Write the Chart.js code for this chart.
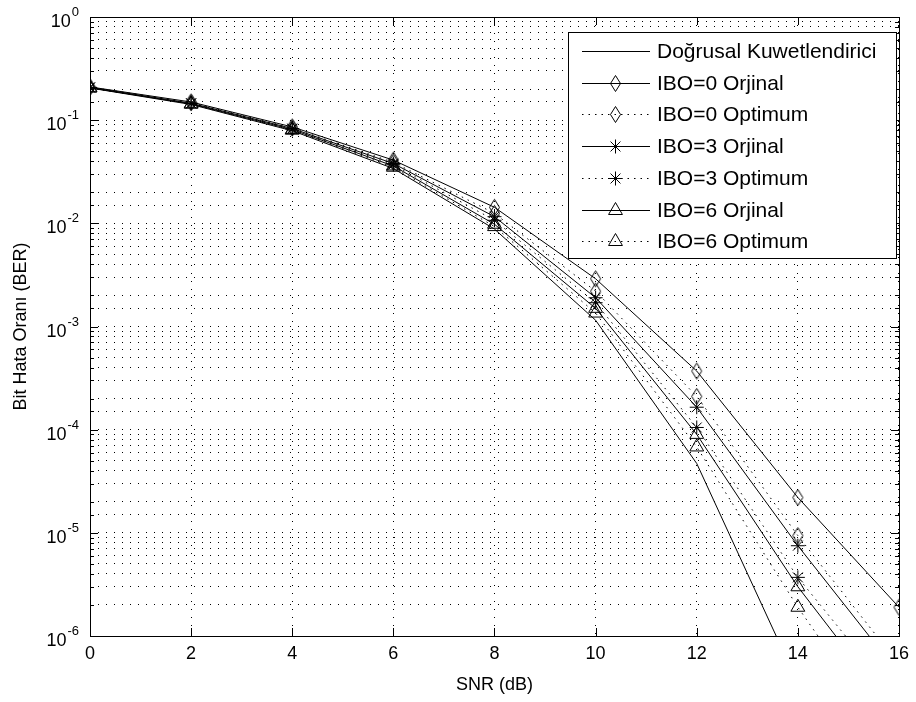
<!DOCTYPE html>
<html lang="tr">
<head>
<meta charset="UTF-8">
<title>BER</title>
<script src="https://cdn.jsdelivr.net/npm/chart.js"></script>
<style>
  body { margin: 0; background: #fff; }
  #wrap { width: 916px; height: 702px; }
</style>
</head>
<body>
<div id="wrap"><canvas id="myChart" width="916" height="702"></canvas></div>
<script>
// SNR (dB) ekseni
const snr = [0, 2, 4, 6, 8, 10, 12, 14, 16];

// BER değerleri
const dogrusal   = [0.205, 0.142, 0.079, 0.034, 0.0088, 0.00115, 4.7e-5, 3.5e-7, null];
const ibo0Orj    = [0.210, 0.150, 0.086, 0.041, 0.0143, 0.0029, 3.7e-4, 2.2e-5, 1.9e-6];
const ibo0Opt    = [0.209, 0.148, 0.084, 0.039, 0.0125, 0.0022, 2.1e-4, 9.4e-6, 5.3e-7];
const ibo3Orj    = [0.208, 0.146, 0.083, 0.038, 0.0116, 0.0019, 1.65e-4, 7.5e-6, 4.3e-7];
const ibo3Opt    = [0.207, 0.145, 0.082, 0.037, 0.0107, 0.0017, 1.05e-4, 3.7e-6, 2.3e-7];
const ibo6Orj    = [0.206, 0.144, 0.081, 0.036, 0.0098, 0.0015, 9.0e-5, 3.0e-6, 1.6e-7];
const ibo6Opt    = [0.205, 0.143, 0.080, 0.035, 0.0093, 0.00135, 6.8e-5, 1.9e-6, 7.5e-8];

const seriesNames = ['Doğrusal Kuwetlendirici', 'IBO=0 Orjinal', 'IBO=0 Optimum',
                     'IBO=3 Orjinal', 'IBO=3 Optimum', 'IBO=6 Orjinal', 'IBO=6 Optimum'];

// y ekseni etiketleri: 10 üzeri üs
const yDecades = [0, -1, -2, -3, -4, -5, -6];
const yTickBase = '10';
const yTickExp = ['0', '-1', '-2', '-3', '-4', '-5', '-6'];

const fontFam = '"Liberation Sans", Arial, sans-serif';

// uzun baklava işareti (matlab 'd')
function makeDiamond() {
    const c = document.createElement('canvas');
    c.width = 13; c.height = 19;
    const g = c.getContext('2d');
    g.strokeStyle = '#000';
    g.lineWidth = 1;
    g.beginPath();
    g.moveTo(6.5, 1.5); g.lineTo(11.5, 9.5); g.lineTo(6.5, 17.5); g.lineTo(1.5, 9.5);
    g.closePath();
    g.stroke();
    return c;
}
const diamond = makeDiamond();

const solid = [];
const dotted = [1.5, 5];

function ds(label, data, dash, style, radius) {
    return {
        label: label,
        data: data,
        borderColor: '#000',
        backgroundColor: 'rgba(0,0,0,0)',
        borderWidth: 1,
        borderDash: dash,
        tension: 0,
        pointStyle: style,
        pointRadius: radius,
        pointHoverRadius: radius,
        pointBorderWidth: 1,
        pointBorderColor: '#000',
        pointBackgroundColor: 'rgba(0,0,0,0)'
    };
}

const datasets = [
    ds(seriesNames[0], dogrusal, solid, false, 0),
    ds(seriesNames[1], ibo0Orj, solid, diamond, 7),
    ds(seriesNames[2], ibo0Opt, dotted, diamond, 7),
    ds(seriesNames[3], ibo3Orj, solid, 'star', 7),
    ds(seriesNames[4], ibo3Opt, dotted, 'star', 7),
    ds(seriesNames[5], ibo6Orj, solid, 'triangle', 8),
    ds(seriesNames[6], ibo6Opt, dotted, 'triangle', 8)
];

// çerçeve + içe dönük tikler + y etiketleri + lejant
const matlabBox = {
    id: 'matlabBox',
    afterDraw(chart) {
        const ctx = chart.ctx;
        const a = chart.chartArea;
        const xs = chart.scales.x, ys = chart.scales.y;
        ctx.save();
        ctx.strokeStyle = '#000';
        ctx.lineWidth = 1;
        ctx.setLineDash([]);
        ctx.beginPath();
        xs.ticks.forEach(t => {
            const px = Math.round(xs.getPixelForValue(t.value)) + 0.5;
            ctx.moveTo(px, a.bottom); ctx.lineTo(px, a.bottom - 8);
            ctx.moveTo(px, a.top); ctx.lineTo(px, a.top + 8);
        });
        ys.ticks.forEach(t => {
            const e = Math.log10(t.value);
            const len = Math.abs(e - Math.round(e)) < 1e-9 ? 8 : 4;
            const py = Math.round(ys.getPixelForValue(t.value)) + 0.5;
            ctx.moveTo(a.left, py); ctx.lineTo(a.left + len, py);
            ctx.moveTo(a.right, py); ctx.lineTo(a.right - len, py);
        });
        ctx.stroke();
        ctx.strokeRect(Math.round(a.left) + 0.5, Math.round(a.top) + 0.5,
                       Math.round(a.right - a.left), Math.round(a.bottom - a.top));

        // y etiketleri (üs yukarıda)
        ctx.fillStyle = '#000';
        ctx.textAlign = 'right';
        ctx.textBaseline = 'alphabetic';
        const rx = a.left - 11;
        yDecades.forEach((d, i) => {
            const py = ys.getPixelForValue(Math.pow(10, d));
            ctx.font = '13px ' + fontFam;
            const w = ctx.measureText(yTickExp[i]).width;
            ctx.fillText(yTickExp[i], rx, py - 1);
            ctx.font = '18px ' + fontFam;
            ctx.fillText(yTickBase, rx - w - 1, py + 10);
        });

        // lejant
        const bx = 568, by = 32, bw = 328, bh = 226;
        ctx.fillStyle = '#fff';
        ctx.fillRect(bx, by, bw, bh);
        ctx.strokeRect(bx + 0.5, by + 0.5, bw, bh);
        ctx.font = '21px ' + fontFam;
        ctx.textBaseline = 'middle';
        ctx.textAlign = 'left';
        chart.data.datasets.forEach((d, i) => {
            const y = Math.round(51 + i * 31.7) + 0.5;
            ctx.setLineDash(d.borderDash);
            ctx.beginPath();
            ctx.moveTo(582, y); ctx.lineTo(650, y);
            ctx.stroke();
            ctx.setLineDash([]);
            if (d.pointStyle) {
                ctx.fillStyle = 'rgba(0,0,0,0)';
                Chart.helpers.drawPoint(ctx, {
                    pointStyle: d.pointStyle, radius: d.pointRadius, rotation: 0, borderWidth: 1
                }, 615.5, y);
            }
            ctx.fillStyle = '#000';
            ctx.fillText(d.label, 657, y + 1);
        });
        ctx.restore();
    }
};

const config = {
    type: 'line',
    data: { labels: snr, datasets: datasets },
    options: {
        responsive: false,
        animation: false,
        events: [],
        layout: { padding: { top: 17, right: 14, left: 0, bottom: 0 } },
        plugins: { legend: { display: false }, tooltip: { enabled: false } },
        scales: {
            x: {
                type: 'linear',
                min: 0, max: 16,
                ticks: { stepSize: 2, color: '#000', font: { family: fontFam, size: 18 }, padding: 7, maxRotation: 0 },
                grid: { color: '#000', lineWidth: 1, drawTicks: false },
                border: { display: false, dash: [1, 7] },
                title: { display: true, text: 'SNR (dB)', color: '#000', font: { family: fontFam, size: 18 }, padding: { top: 0, bottom: 6 } },
                afterFit(scale) { scale.height = 66; }
            },
            y: {
                type: 'logarithmic',
                min: 1e-6, max: 1,
                ticks: { autoSkip: false, display: false },
                grid: { color: '#000', lineWidth: 1, drawTicks: false },
                border: { display: false, dash: [1, 7] },
                title: { display: true, text: 'Bit Hata Oranı (BER)', color: '#000', font: { family: fontFam, size: 18 }, padding: { top: 10, bottom: 0 } },
                afterFit(scale) { scale.width = 90; }
            }
        }
    },
    plugins: [matlabBox]
};

const ctx = document.getElementById('myChart').getContext('2d');
const myChart = new Chart(ctx, config);
</script>
</body>
</html>
